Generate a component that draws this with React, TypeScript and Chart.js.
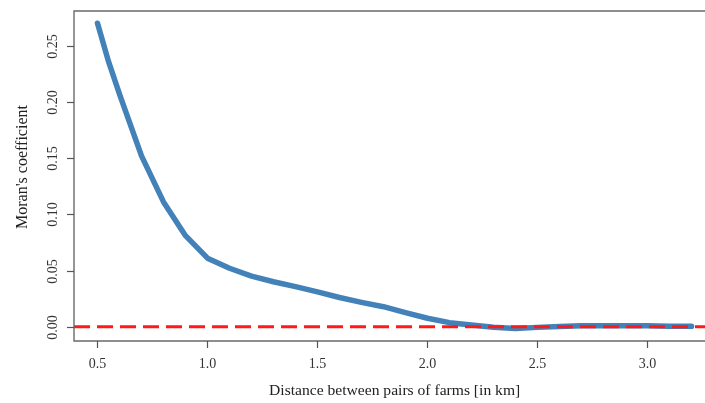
import React, { useEffect, useRef } from "react";
import { Chart, registerables } from "chart.js";

Chart.register(...registerables);

const distances = [0.5, 0.55, 0.6, 0.7, 0.8, 0.9, 1.0, 1.1, 1.2, 1.3, 1.4, 1.5, 1.6, 1.7, 1.8, 1.9, 2.0, 2.1, 2.2, 2.3, 2.4, 2.5, 2.6, 2.7, 2.8, 2.9, 3.0, 3.1, 3.2];
const moran = [0.270, 0.236, 0.207, 0.152, 0.111, 0.081, 0.061, 0.052, 0.045, 0.040, 0.0356, 0.031, 0.026, 0.0217, 0.0178, 0.0125, 0.0075, 0.0036, 0.0015, -0.0005, -0.0015, -0.0006, 0.0002, 0.0008, 0.0008, 0.0008, 0.0008, 0.0005, 0.0003];
const xTicks = [0.5, 1.0, 1.5, 2.0, 2.5, 3.0];
const xTickLabels = ["0.5", "1.0", "1.5", "2.0", "2.5", "3.0"];
const yTicks = [0.0, 0.05, 0.1, 0.15, 0.2, 0.25];
const yTickLabels = ["0.00", "0.05", "0.10", "0.15", "0.20", "0.25"];
const referenceLevel = 0;
const xTitle = "Distance between pairs of farms [in km]";
const yTitle = "Moran's coefficient";

const SERIF = '"Liberation Serif", "Times New Roman", serif';

const axesPlugin = {
  id: "rAxes",
  afterDatasetsDraw(chart: any) {
    const { ctx, chartArea, scales } = chart;
    const xs = scales.x;
    const ys = scales.y;
    const { left, right, top, bottom } = chartArea;
    ctx.save();
    // reference dashed line
    const y0 = ys.getPixelForValue(referenceLevel);
    ctx.strokeStyle = "#ff1a1a";
    ctx.lineWidth = 3;
    ctx.setLineDash([16, 7]);
    ctx.beginPath();
    ctx.moveTo(left, y0);
    ctx.lineTo(right, y0);
    ctx.stroke();
    ctx.setLineDash([]);

    // box (right side is cut off)
    ctx.strokeStyle = "#6a6a6a";
    ctx.lineWidth = 1.4;
    ctx.beginPath();
    ctx.moveTo(right, top);
    ctx.lineTo(left, top);
    ctx.lineTo(left, bottom);
    ctx.lineTo(right, bottom);
    ctx.stroke();

    // x ticks
    ctx.strokeStyle = "#555";
    ctx.lineWidth = 1.2;
    ctx.fillStyle = "#333";
    ctx.font = `14px ${SERIF}`;
    ctx.textAlign = "center";
    ctx.textBaseline = "middle";
    xTicks.forEach((v, i) => {
      const px = Math.round(xs.getPixelForValue(v)) + 0.5;
      ctx.beginPath();
      ctx.moveTo(px, bottom);
      ctx.lineTo(px, bottom + 7);
      ctx.stroke();
      ctx.fillText(xTickLabels[i], px, bottom + 23);
    });

    // y ticks
    yTicks.forEach((v, i) => {
      const py = Math.round(ys.getPixelForValue(v)) + 0.5;
      ctx.beginPath();
      ctx.moveTo(left, py);
      ctx.lineTo(left - 7, py);
      ctx.stroke();
      ctx.save();
      ctx.translate(left - 21, py);
      ctx.rotate(-Math.PI / 2);
      ctx.fillText(yTickLabels[i], 0, 0);
      ctx.restore();
    });

    // titles
    ctx.fillStyle = "#222";
    ctx.font = `15.6px ${SERIF}`;
    ctx.fillText(xTitle, (left + xs.getPixelForValue(3.308)) / 2, 391);
    ctx.save();
    ctx.translate(23, 167);
    ctx.rotate(-Math.PI / 2);
    ctx.font = `16px ${SERIF}`;
    ctx.fillText(yTitle, 0, 0);
    ctx.restore();
    ctx.restore();
  },
};

const whiteBg = {
  id: "whiteBg",
  beforeDraw(chart: any) {
    const { ctx, width, height } = chart;
    ctx.save();
    ctx.fillStyle = "#ffffff";
    ctx.fillRect(0, 0, width, height);
    ctx.restore();
  },
};

export default function App() {
  const ref = useRef<HTMLCanvasElement | null>(null);
  useEffect(() => {
    if (!ref.current) return;
    const chart = new Chart(ref.current, {
      type: "line",
      data: {
        datasets: [
          {
            data: distances.map((d, i) => ({ x: d, y: moran[i] })),
            borderColor: "#4382b9",
            borderWidth: 5.5,
            borderCapStyle: "round",
            borderJoinStyle: "round",
            pointRadius: 0,
            tension: 0,
            fill: false,
          },
        ],
      },
      options: {
        responsive: false,
        animation: false,
        devicePixelRatio: 1,
        layout: { padding: { left: 74, top: 11, right: 0, bottom: 62 } },
        plugins: { legend: { display: false }, tooltip: { enabled: false } },
        scales: {
          x: { type: "linear", min: 0.3932, max: 3.2614, display: false },
          y: { type: "linear", min: -0.01272, max: 0.28087, display: false },
        },
      },
      plugins: [whiteBg, axesPlugin],
    } as any);
    return () => chart.destroy();
  }, []);
  return (
    <div style={{ position: "fixed", left: 0, top: 0, width: 705, height: 403, background: "#fff" }}>
      <canvas ref={ref} width={705} height={403} style={{ width: 705, height: 403, display: "block" }} />
    </div>
  );
}
